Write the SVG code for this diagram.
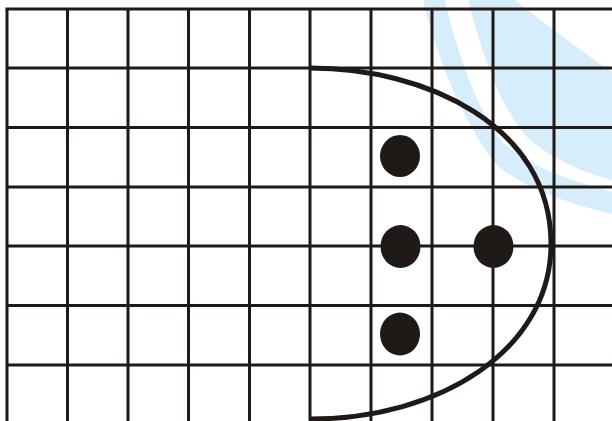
<svg xmlns="http://www.w3.org/2000/svg" width="612" height="421" viewBox="0 0 612 421">
<style>
.wm{fill:#d6edfc;stroke:none}
.grid line{stroke:#1f1a17;stroke-width:3}
.curve{fill:none;stroke:#1f1a17;stroke-width:5}
.dot{fill:#1f1a17}
</style>
<rect width="612" height="421" fill="#ffffff"/>
<g id="watermark">
<path class="wm" d="M468,0 L515,0 C540,20 580,50 612,72 L612,180 C580,172 545,155 525,135 C500,105 482,55 468,0 Z"/>
<path class="wm" d="M423,0 L445,0 C455,45 475,105 500,140 C530,168 575,182 612,192 L612,214 C570,204 530,190 500,168 C470,135 440,70 423,0 Z"/>
</g>
<g id="grid" class="grid">
<line x1="7" y1="9" x2="7" y2="421"/>
<line x1="67.5" y1="9" x2="67.5" y2="421"/>
<line x1="128" y1="9" x2="128" y2="421"/>
<line x1="188.5" y1="9" x2="188.5" y2="421"/>
<line x1="249.5" y1="9" x2="249.5" y2="421"/>
<line x1="310" y1="9" x2="310" y2="421"/>
<line x1="371" y1="9" x2="371" y2="421"/>
<line x1="432" y1="9" x2="432" y2="421"/>
<line x1="493" y1="9" x2="493" y2="421"/>
<line x1="554" y1="9" x2="554" y2="421"/>
<line x1="5.5" y1="9" x2="612" y2="9"/>
<line x1="7" y1="68" x2="612" y2="68"/>
<line x1="7" y1="127.5" x2="612" y2="127.5"/>
<line x1="7" y1="187" x2="612" y2="187"/>
<line x1="7" y1="246" x2="612" y2="246"/>
<line x1="7" y1="305.5" x2="612" y2="305.5"/>
<line x1="7" y1="365" x2="612" y2="365"/>
</g>
<g id="curve">
<path class="curve" d="M310,68 C425,68 551,125 551,244 C551,350 440,419 310,419"/>
</g>
<g id="dot1"><ellipse class="dot" cx="400" cy="156" rx="20" ry="21"/></g>
<g id="dot2"><ellipse class="dot" cx="400.5" cy="246.5" rx="20" ry="21.5"/></g>
<g id="dot3"><ellipse class="dot" cx="493.5" cy="246.5" rx="20" ry="21.5"/></g>
<g id="dot4"><ellipse class="dot" cx="400" cy="334" rx="20" ry="21.5"/></g>
</svg>
